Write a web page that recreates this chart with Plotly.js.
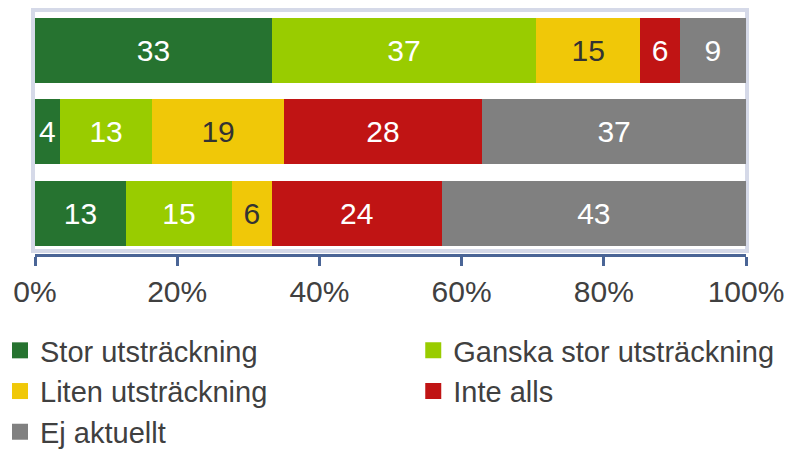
<!DOCTYPE html>
<html>
<head>
<meta charset="utf-8">
<script src="https://cdn.plot.ly/plotly-3.0.1.min.js"></script>
<style>
  html, body { margin: 0; padding: 0; background: #fff; }
  #chart { width: 809px; height: 449px; }
</style>
</head>
<body>
<div id="chart"></div>
<script>
// rows top to bottom (no row labels in the picture)
const rows = ['A', 'B', 'C'];

const seriesNames = ['Stor utsträckning', 'Ganska stor utsträckning', 'Liten utsträckning', 'Inte alls', 'Ej aktuellt'];
const seriesColors = ['#267330', '#99CC00', '#F0C808', '#C01414', '#808080'];
const labelColors = ['#ffffff', '#ffffff', '#333333', '#ffffff', '#ffffff'];
// which legend column each series sits in
const legendColumn = ['legend', 'legend2', 'legend', 'legend2', 'legend'];

// percent shares
const stor   = [33.3, 3.5, 12.8];
const ganska = [37.2, 13.0, 14.9];
const liten  = [14.6, 18.5, 5.6];
const inte   = [5.6, 27.9, 23.9];
const ej     = [9.3, 37.1, 42.8];

const xTicks = [0, 20, 40, 60, 80, 100];
const xTickText = ['0%', '20%', '40%', '60%', '80%', '100%'];

const FONT = '"Liberation Sans", Arial, sans-serif';
const series = [stor, ganska, liten, inte, ej];

const traces = series.map((vals, i) => ({
    type: 'bar',
    orientation: 'h',
    y: rows,
    x: vals,
    name: seriesNames[i],
    showlegend: false,
    marker: { color: seriesColors[i], line: { width: 0 } },
    texttemplate: '%{x:.0f}',
    textposition: 'inside',
    insidetextanchor: 'middle',
    textangle: 0,
    constraintext: 'none',
    textfont: { family: FONT, size: 30, color: labelColors[i] },
    hoverinfo: 'skip'
}));

// legend entries (bigger squares than the bar legend glyph)
seriesNames.forEach((n, i) => {
    traces.push({
        type: 'scatter',
        mode: 'markers',
        x: [null],
        y: [null],
        name: n,
        legend: legendColumn[i],
        marker: { symbol: 'square', size: 16, color: seriesColors[i] },
        hoverinfo: 'skip'
    });
});

const legendBase = {
    orientation: 'v',
    traceorder: 'normal',
    xref: 'paper',
    yref: 'container',
    xanchor: 'left',
    yanchor: 'top',
    y: 0.2762,
    font: { family: FONT, size: 29, color: '#404040' },
    bgcolor: 'rgba(0,0,0,0)',
    borderwidth: 0
};

const layout = {
    width: 809,
    height: 449,
    margin: { l: 35, r: 63, t: 12, b: 195 },
    paper_bgcolor: '#ffffff',
    plot_bgcolor: 'rgba(0,0,0,0)',
    barmode: 'stack',
    bargap: 0.205,
    font: { family: FONT, size: 30, color: '#404040' },
    xaxis: {
        range: [0, 100],
        tickvals: xTicks,
        ticktext: xTickText,
        showgrid: false,
        zeroline: false,
        showline: true,
        linecolor: '#4A6596',
        linewidth: 3,
        ticks: 'outside',
        ticklen: 9,
        tickwidth: 3,
        tickcolor: '#4A6596',
        tickfont: { family: FONT, size: 30, color: '#404040' },
        fixedrange: true
    },
    yaxis: {
        type: 'category',
        range: [2.495, -0.465],
        autorange: false,
        showticklabels: false,
        showgrid: false,
        zeroline: false,
        showline: false,
        ticks: '',
        fixedrange: true
    },
    shapes: [{
        type: 'rect',
        xref: 'paper', yref: 'paper',
        x0: -0.0028, x1: 1.0014,
        y0: 0.0124, y1: 1.008,
        line: { color: '#D5D9E8', width: 4 },
        fillcolor: 'rgba(0,0,0,0)',
        layer: 'below'
    }],
    legend: { ...legendBase, x: -0.05 },
    legend2: { ...legendBase, x: 0.532 }
};

Plotly.newPlot('chart', traces, layout, { displayModeBar: false, staticPlot: true });
</script>
</body>
</html>
